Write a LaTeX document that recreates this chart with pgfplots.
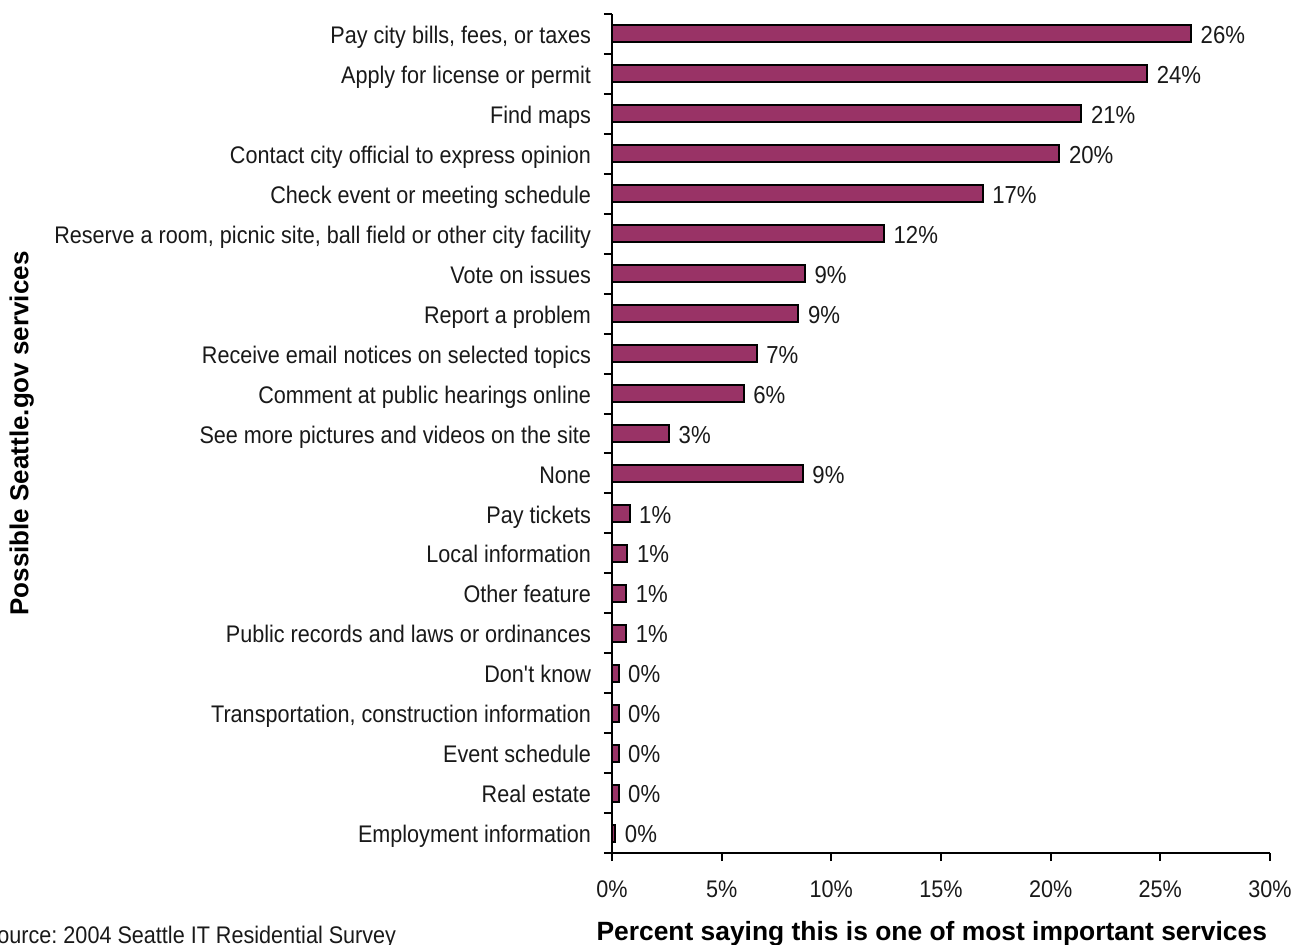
\documentclass[border=0pt]{standalone}
\usepackage{pgfplots}
\pgfplotsset{compat=1.18}
\usepackage{pgfplotstable}
\usepackage{fontspec}
\setmainfont{Liberation Sans}[FakeStretch=0.9]
\newfontfamily\labfont{Liberation Sans}
\definecolor{plum}{HTML}{993366}
\frenchspacing

% idx 20 = top row; lab = printed percentage
\pgfplotstableread{
idx val  lab
20  26.4 26
19  24.4 24
18  21.4 21
17  20.4 20
16  16.9 17
15  12.4 12
14  8.8  9
13  8.5  9
12  6.6  7
11  6.0  6
10  2.6  3
9   8.7  9
8   0.8  1
7   0.7  1
6   0.65 1
5   0.65 1
4   0.3  0
3   0.3  0
2   0.3  0
1   0.3  0
0   0.15 0
}\services

\begin{document}
\begin{tikzpicture}
\useasboundingbox (0,0) rectangle (648.5pt,-472.5pt);
\begin{axis}[
    at={(306pt,-426.5pt)}, anchor=south west,
    scale only axis, width=329pt, height=419.5pt,
    xbar, bar width=8.5pt,
    xmin=0, xmax=30, ymin=-0.5, ymax=20.5,
    axis lines=left,
    axis line style={-, line width=1pt},
    tick align=outside,
    major tick length=4pt, minor tick length=4pt,
    every tick/.style={black, line width=1pt},
    every major y tick/.style={draw=none},
    xtick={0,5,...,30},
    xticklabel={\pgfmathprintnumber{\tick}\%},
    /pgf/number format/assume math mode=true,
    xticklabel style={yshift=-6.5pt},
    ytick={0,...,20},
    minor ytick={-0.5,0.5,...,20.5},
    yticklabels={Employment information, Real estate, Event schedule,
        {Transportation, construction information}, Don\textquotesingle t know,
        Public records and laws or ordinances, Other feature,
        Local information, Pay tickets, None,
        See more pictures and videos on the site,
        Comment at public hearings online,
        Receive email notices on selected topics, Report a problem,
        Vote on issues,
        {Reserve a room, picnic site, ball field or other city facility},
        Check event or meeting schedule,
        Contact city official to express opinion, Find maps,
        Apply for license or permit, {Pay city bills, fees, or taxes}},
    yticklabel style={xshift=-3pt, yshift=-0.5pt, text height=8.6pt, text depth=0pt},
    tick label style={font=\fontsize{12}{14}\selectfont, text=black!90},
    point meta=explicit symbolic,
    nodes near coords={\pgfplotspointmeta\%},
    nodes near coords align=horizontal,
    every node near coord/.append style={font=\fontsize{12.3}{14}\selectfont, text=black!90,
        anchor=west, xshift=1pt, yshift=-0.5pt, text height=8.6pt, text depth=0pt},
    xlabel={Percent saying this is one of most important services},
    xlabel style={at={(rel axis cs:0.486,-0.1037)}, anchor=base, font=\fontsize{13.2}{15}\labfont\bfseries},
    ylabel={Possible Seattle.gov services},
    ylabel style={at={(rel axis cs:-0.897,0.5)}, anchor=center, font=\fontsize{13}{15}\labfont\bfseries},
    clip=false,
]
\addplot[fill=plum, draw=black, line width=1pt] table[x=val, y=idx, meta=lab] {\services};
\end{axis}
\node[anchor=base west, font=\fontsize{12}{14}\selectfont, text=black!90] at (-12pt,-472pt) {Source: 2004 Seattle IT Residential Survey};
\end{tikzpicture}
\end{document}
